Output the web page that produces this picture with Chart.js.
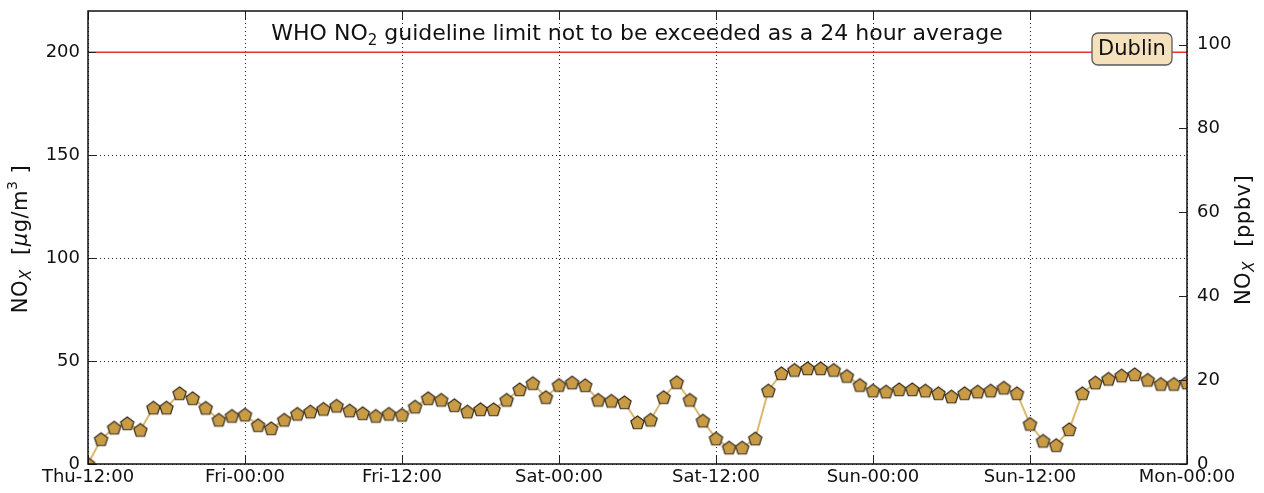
<!DOCTYPE html>
<html>
<head>
<meta charset="utf-8">
<script src="https://cdn.jsdelivr.net/npm/chart.js@4"></script>
<style>
    html, body { margin: 0; padding: 0; background: #fff; }
    #wrap { width: 1264px; height: 493px; }
</style>
</head>
<body>
<div id="wrap"><canvas id="ChartNox"></canvas></div>
<script>
// Hourly NOx values, Thu-12:00 -> Mon-00:00 (ug/m3)
const noxValues = [
    0, 12.0, 17.6, 19.7, 16.5, 27.3, 27.3, 34.3, 31.9, 27.2, 21.4, 23.3,
    23.9, 18.8, 17.3, 21.4, 24.3, 25.4, 26.7, 28.2, 25.9, 24.6, 23.3, 24.3,
    23.8, 27.8, 31.9, 31.1, 28.5, 25.4, 26.5, 26.5, 31.1, 36.2, 39.2, 32.4,
    38.3, 39.5, 38.2, 31.1, 30.6, 29.9, 20.2, 21.4, 32.4, 39.7, 31.1, 21.0,
    12.3, 7.9, 7.9, 12.3, 35.6, 44.0, 45.6, 46.4, 46.4, 45.6, 42.7, 38.3,
    35.6, 35.1, 36.2, 36.2, 35.6, 34.3, 32.7, 34.3, 35.1, 35.6, 37.0, 34.3,
    19.4, 11.2, 9.1, 16.8, 34.3, 39.5, 41.3, 42.9, 43.5, 40.8, 38.8, 38.8,
    39.5
];
const tickLabels = ['Thu-12:00', 'Fri-00:00', 'Fri-12:00', 'Sat-00:00', 'Sat-12:00', 'Sun-00:00', 'Sun-12:00', 'Mon-00:00'];
const whoLimit = 200;
const hoursSpan = 84;
const stationName = 'Dublin';

const FONT = "'DejaVu Sans', sans-serif";

// pentagon marker (Chart.js has no pentagon style)
function makePentagon(r) {
    const size = Math.ceil(r * 2 + 3);
    const c = document.createElement('canvas');
    c.width = size; c.height = size;
    const g = c.getContext('2d');
    const cx = size / 2, cy = size / 2 + 0.6;
    g.beginPath();
    for (let i = 0; i < 5; i++) {
        const a = -Math.PI / 2 + i * 2 * Math.PI / 5;
        const px = cx + r * Math.cos(a), py = cy + r * Math.sin(a);
        if (i === 0) g.moveTo(px, py); else g.lineTo(px, py);
    }
    g.closePath();
    g.fillStyle = '#c99b45';
    g.fill();
    g.lineWidth = 1.2;
    g.strokeStyle = '#352c1e';
    g.stroke();
    return c;
}

// frame, inward ticks, texts
const decorPlugin = {
    id: 'decor',
    afterDraw(chart) {
        const ctx = chart.ctx;
        const a = chart.chartArea;
        const sx = chart.scales.x, sy = chart.scales.y, sy1 = chart.scales.y1;
        ctx.save();
        ctx.strokeStyle = '#222';
        ctx.lineWidth = 1;
        const tl = 8;
        ctx.beginPath();
        sx.ticks.forEach(t => {
            const px = Math.round(sx.getPixelForValue(t.value)) + 0.5;
            ctx.moveTo(px, a.bottom); ctx.lineTo(px, a.bottom - tl);
            ctx.moveTo(px, a.top); ctx.lineTo(px, a.top + tl);
        });
        sy.ticks.forEach(t => {
            const py = Math.round(sy.getPixelForValue(t.value)) + 0.5;
            ctx.moveTo(a.left, py); ctx.lineTo(a.left + tl, py);
        });
        sy1.ticks.forEach(t => {
            const py = Math.round(sy1.getPixelForValue(t.value)) + 0.5;
            ctx.moveTo(a.right, py); ctx.lineTo(a.right - tl, py);
        });
        ctx.stroke();

        // plot frame
        ctx.lineWidth = 1.5;
        ctx.strokeStyle = '#111';
        ctx.strokeRect(a.left, a.top, a.right - a.left, a.bottom - a.top);

        // title text inside the axes
        ctx.fillStyle = '#111';
        ctx.textBaseline = 'alphabetic';
        const parts = [['WHO NO', 22, 0], ['2', 15, 5], [' guideline limit not to be exceeded as a 24 hour average', 22, 0]];
        let total = 0;
        parts.forEach(p => { ctx.font = p[1] + 'px ' + FONT; total += ctx.measureText(p[0]).width; });
        let x = 637 - total / 2;
        parts.forEach(p => {
            ctx.font = p[1] + 'px ' + FONT;
            ctx.textAlign = 'left';
            ctx.fillText(p[0], x, 40 + p[2]);
            x += ctx.measureText(p[0]).width;
        });

        // station box
        ctx.font = '21px ' + FONT;
        const bw = 80, bh = 32, bx = 1092, by = 33;
        ctx.beginPath();
        ctx.roundRect(bx, by, bw, bh, 6);
        ctx.fillStyle = '#f5e2bd';
        ctx.fill();
        ctx.lineWidth = 1.3;
        ctx.strokeStyle = '#5a5a5a';
        ctx.stroke();
        ctx.fillStyle = '#111';
        ctx.textAlign = 'center';
        ctx.textBaseline = 'middle';
        ctx.fillText(stationName, bx + bw / 2, by + bh / 2 + 1);

        // axis titles
        drawAxisTitle(ctx, 22, 239, 'ug');
        drawAxisTitle(ctx, 1245, 240, 'ppb');
        ctx.restore();
    }
};

function drawAxisTitle(ctx, cx, cy, kind) {
    const segs = kind === 'ug'
        ? [['NO', 21, 0, ''], ['X', 15, 5, 'italic '], ['  [', 21, 0, ''], ['\u03bc', 21, 0, 'italic '], ['g/m', 21, 0, ''], ['3', 14, -9, ''], [' ]', 21, 0, '']]
        : [['NO', 21, 0, ''], ['X', 15, 5, 'italic '], ['  [ppbv]', 21, 0, '']];
    ctx.save();
    ctx.translate(cx, cy);
    ctx.rotate(-Math.PI / 2);
    ctx.fillStyle = '#111';
    ctx.textAlign = 'left';
    ctx.textBaseline = 'middle';
    ctx.letterSpacing = '0.5px';
    let total = 0;
    segs.forEach(s => { ctx.font = s[3] + s[1] + 'px ' + FONT; total += ctx.measureText(s[0]).width; });
    let x = -total / 2;
    segs.forEach(s => {
        ctx.font = s[3] + s[1] + 'px ' + FONT;
        ctx.fillText(s[0], x, s[2]);
        x += ctx.measureText(s[0]).width;
    });
    ctx.restore();
}

const pentagon = makePentagon(7);
const points = noxValues.map((v, i) => ({ x: i, y: v }));

// drop Chart.js's automatic label padding so the plot box sits where it should
function noPad(s) {
    s.paddingTop = 0; s.paddingBottom = 0;
    s.paddingLeft = 0; s.paddingRight = 0;
}

new Chart(document.getElementById('ChartNox'), {
    type: 'line',
    data: {
        datasets: [{
            data: [{ x: 0, y: whoLimit }, { x: hoursSpan, y: whoLimit }],
            borderColor: '#e3322f',
            borderWidth: 1.6,
            pointRadius: 0,
            yAxisID: 'y',
            clip: 0,
            order: 2
        }, {
            data: points,
            borderColor: '#dcb86e',
            borderWidth: 2,
            pointStyle: pentagon,
            pointRadius: 7,
            tension: 0,
            yAxisID: 'y',
            clip: 0,
            order: 1
        }]
    },
    options: {
        responsive: true,
        maintainAspectRatio: false,
        animation: false,
        layout: { padding: { top: 11, left: 0, right: 0, bottom: 0 } },
        plugins: {
            legend: { display: false },
            tooltip: { enabled: false },
            title: { display: false }
        },
        scales: {
            x: {
                type: 'linear',
                min: 0,
                max: hoursSpan,
                afterFit: s => { noPad(s); s.height = 29; },
                ticks: {
                    stepSize: 12,
                    color: '#111',
                    font: { family: FONT, size: 18 },
                    padding: 3,
                    maxRotation: 0,
                    autoSkip: false,
                    callback: v => tickLabels[v / 12]
                },
                grid: { color: '#222', lineWidth: 1, drawTicks: false },
                border: { display: false, dash: [1, 3] }
            },
            y: {
                position: 'left',
                min: 0,
                max: 220,
                afterFit: s => { noPad(s); s.width = 88; },
                ticks: {
                    stepSize: 50,
                    includeBounds: false,
                    color: '#111',
                    font: { family: FONT, size: 18 },
                    padding: 8
                },
                grid: { color: '#222', lineWidth: 1, drawTicks: false },
                border: { display: false, dash: [1, 3] }
            },
            y1: {
                position: 'right',
                min: 0,
                max: 108,
                afterFit: s => { noPad(s); s.width = 77; },
                ticks: {
                    stepSize: 20,
                    includeBounds: false,
                    color: '#111',
                    font: { family: FONT, size: 18 },
                    padding: 10
                },
                grid: { display: false, drawTicks: false },
                border: { display: false }
            }
        }
    },
    plugins: [decorPlugin]
});
</script>
</body>
</html>
